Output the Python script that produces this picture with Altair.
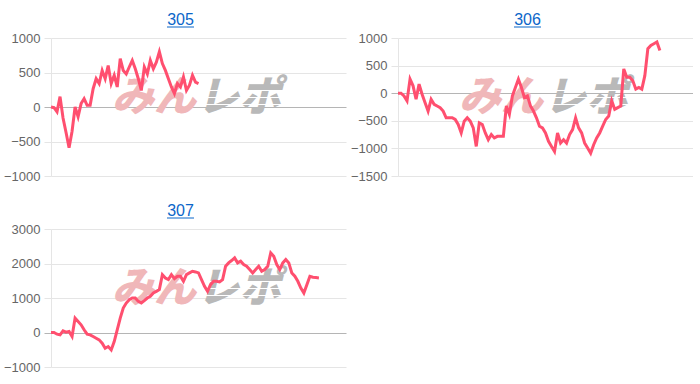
import altair as alt
import pandas as pd

# Running balance per machine, one value per game slot
X_SLOTS = 98
s305 = [0, -10, -70, 150, -160, -370, -590, -350, 0, -140,
        50, 120, 25, 25, 265, 410, 340, 530, 410, 600,
        340, 460, 290, 700, 530, 480, 580, 675, 555, 410,
        240, 580, 480, 675, 555, 650, 800, 630, 530, 410,
        290, 195, 340, 290, 435, 240, 315, 460, 360, 340]
s306 = [0, 0, -49, -140, 256, 134, -110, 165, -18, -171,
        -323, -110, -201, -232, -262, -323, -445, -445, -445, -476,
        -567, -720, -506, -445, -506, -628, -964, -537, -567, -720,
        -842, -750, -811, -781, -781, -781, -232, -384, -49, 104,
        256, 104, -79, -49, -232, -323, -445, -598, -628, -720,
        -872, -964, -1055, -720, -903, -842, -903, -750, -659, -445,
        -628, -720, -903, -994, -1086, -933, -811, -720, -598, -476,
        -415, -140, -293, -262, -232, 439, 287, 287, 226, 73,
        104, 73, 317, 805, 866, 897, 927, 775]
s307 = [0, 0, -49, -68, 49, 10, 29, -116, 417, 320,
        223, 78, -49, -68, -116, -165, -213, -310, -456, -407,
        -504, -262, 78, 417, 708, 854, 951, 999, 999, 902,
        854, 922, 999, 1048, 1145, 1193, 1242, 1678, 1581, 1533,
        1678, 1562, 1630, 1630, 1484, 1678, 1727, 1775, 1756, 1727,
        1533, 1339, 1193, 1387, 1484, 1484, 1465, 1533, 1921, 2018,
        2086, 2163, 2018, 2066, 1969, 1921, 1824, 1727, 1824, 1921,
        1775, 1824, 1921, 2309, 2212, 1969, 1824, 2018, 2115, 2018,
        1727, 1630, 1484, 1290, 1145, 1387, 1630, 1601, 1591, 1581]

LINE = "#ff4f6f"
GRID = "#e5e5e5"
ZERO = "#b5b5b5"
LINK = "#0b66c9"
W, H = 295, 138


def panel(name, values, domain, ticks):
    df = pd.DataFrame({"i": list(range(len(values))), "v": values})
    y_axis = alt.Axis(
        values=ticks,
        format="d",
        grid=True,
        gridColor={"condition": {"test": "datum.value === 0", "value": ZERO}, "value": GRID},
        tickColor={"condition": {"test": "datum.value === 0", "value": ZERO}, "value": GRID},
        tickSize=7,
        labelPadding=4,
        domainColor=GRID,
        labelColor="#666666",
        labelFontSize=13,
        labelFont="Liberation Sans",
        title=None,
    )
    line = alt.Chart(df).mark_line(color=LINE, strokeWidth=3, strokeJoin="miter").encode(
        x=alt.X("i:Q", scale=alt.Scale(domain=[0, X_SLOTS], nice=False, zero=False), axis=None),
        y=alt.Y("v:Q", scale=alt.Scale(domain=domain, nice=False), axis=y_axis),
    )
    # "みんレポ" watermark behind the line
    wm_left = alt.Chart(pd.DataFrame({"t": ["みん"]})).mark_text(
        font="Noto Sans CJK JP", fontSize=42, fontWeight=900, fontStyle="italic",
        color="#f0b7b9", align="center", baseline="middle",
    ).encode(x=alt.value(103), y=alt.value(60), text="t:N")
    wm_right = alt.Chart(pd.DataFrame({"t": ["レポ"]})).mark_text(
        font="Noto Sans CJK JP", fontSize=42, fontWeight=900, fontStyle="italic",
        color="#b9b9b9", align="center", baseline="middle",
    ).encode(x=alt.value(188), y=alt.value(60), text="t:N")
    # thin white streaks across the grey half of the logo
    streaks = [
        alt.Chart(pd.DataFrame({"k": [k]})).mark_rule(color="white", strokeWidth=1.2).encode(
            x=alt.value(146), x2=alt.value(236), y=alt.value(yy)
        )
        for k, yy in enumerate([52.5, 59.5, 66.5])
    ]
    title = alt.Chart(pd.DataFrame({"t": [name]})).mark_text(
        font="Liberation Sans", fontSize=16, color=LINK, align="center", baseline="alphabetic",
    ).encode(x=alt.value(129.5), y=alt.value(-13), text="t:N")
    underline = alt.Chart(pd.DataFrame({"t": [name]})).mark_rule(color=LINK, strokeWidth=1).encode(
        x=alt.value(116), x2=alt.value(143), y=alt.value(-11)
    )
    return alt.layer(wm_left, wm_right, *streaks, line, title, underline).properties(width=W, height=H)


p305 = panel("305", s305, [-1000, 1000], [-1000, -500, 0, 500, 1000])
p306 = panel("306", s306, [-1500, 1000], [-1500, -1000, -500, 0, 500, 1000])
p307 = panel("307", s307, [-1000, 3000], [-1000, 0, 1000, 2000, 3000])

chart = alt.concat(
    p305, p306, p307, columns=2, spacing={"row": 53, "column": 52}, bounds="flush"
).properties(
    padding={"left": 3, "top": 12, "right": 0, "bottom": 0},
    background="white",
).configure_view(stroke=None)

chart.save("out.html", embed_options={"renderer": "svg", "actions": False})
